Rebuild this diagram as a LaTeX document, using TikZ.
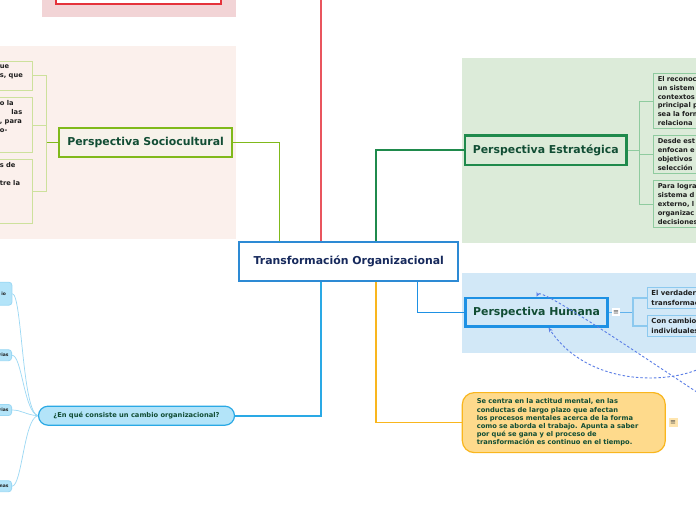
\documentclass[tikz,border=0pt]{standalone}
\usepackage{fontspec}
\setmainfont{DejaVu Sans}
\usetikzlibrary{arrows.meta,positioning,calc}
\definecolor{tored}{HTML}{E5323B}
\definecolor{toredline}{HTML}{E9555E}
\definecolor{topink}{HTML}{F2D4D6}
\definecolor{sociobg}{HTML}{FBF0EC}
\definecolor{sociogreen}{HTML}{80B91B}
\definecolor{sociolight}{HTML}{CDE19C}
\definecolor{sociofill}{HTML}{F7F2EA}
\definecolor{estrbg}{HTML}{DCEBD9}
\definecolor{estrgreen}{HTML}{1F8A4C}
\definecolor{estrlight}{HTML}{8FCB9F}
\definecolor{humbg}{HTML}{D2E8F7}
\definecolor{humblue}{HTML}{1E91E4}
\definecolor{humlight}{HTML}{8CC9EF}
\definecolor{coreblue}{HTML}{2D8AD4}
\definecolor{corenavy}{HTML}{16295C}
\definecolor{titlegreen}{HTML}{114D34}
\definecolor{leaftext}{HTML}{1E1E1E}
\definecolor{mentalfill}{HTML}{FEDA8C}
\definecolor{mentalline}{HTML}{F9B61E}
\definecolor{cambiofill}{HTML}{B3E4F9}
\definecolor{cambioline}{HTML}{2AA9E5}
\definecolor{cambiolight}{HTML}{9BD8F4}
\definecolor{relblue}{HTML}{5A7DE6}

\begin{document}
\begin{tikzpicture}[x=1pt,y=-1pt,
  persp/.style={draw,line width=2.2pt,inner sep=0pt,text=titlegreen,
    font=\bfseries\fontsize{10.9}{13}\selectfont},
  leaf/.style={draw,line width=0.9pt,anchor=north west,align=left,inner xsep=4pt,
    inner ysep=0pt,text=leaftext,font=\bfseries\fontsize{6.7}{8.8}\selectfont},
  cleaf/.style={draw=cambiolight,fill=cambiofill,rounded corners=3pt,line width=0.8pt,
    anchor=east,align=right,text width=30pt,inner xsep=3pt,inner ysep=0pt,
    text=leaftext,font=\bfseries\fontsize{4.5}{5}\selectfont},
  link/.style={line width=1.3pt},
  rel/.style={relblue,line width=0.9pt,dash pattern=on 2.5pt off 2pt,
    -{Stealth[length=4.5pt,width=4pt]}},
  note/.style={fill=white,inner sep=0pt,minimum size=8pt,text=black!70,
    font=\fontsize{7}{7}\selectfont}]
  \useasboundingbox (0,0) rectangle (696,520);
  \fill[white] (0,0) rectangle (696,520);
  % branch backgrounds
  \fill[topink] (41.7,-30) rectangle (235.7,16.7);
  \fill[sociobg] (-5,46) rectangle (235.7,239.3);
  \fill[estrbg] (461.7,58.3) rectangle (700,243.3);
  \fill[humbg] (461.7,272.7) rectangle (700,352.7);

  \node[draw=tored,line width=2pt,fill=white,minimum width=165pt,minimum height=28pt] (goal) at (138,-10) {};
  \node[draw=coreblue,line width=2pt,fill=white,minimum width=219pt,minimum height=39pt,text=corenavy,
    font=\bfseries\fontsize{10.9}{13}\selectfont] (core) at (348.8,261.7) {Transformación Organizacional};
  \node[persp,draw=sociogreen,fill=sociofill,minimum width=172.5pt,minimum height=28.8pt] (socio) at (145.6,142.2) {Perspectiva Sociocultural};
  \node[persp,draw=estrgreen,fill=estrbg,minimum width=161.5pt,minimum height=29.2pt] (estr) at (545.8,150) {Perspectiva Estratégica};
  \node[persp,draw=humblue,fill=humbg,line width=2.6pt,minimum width=142.1pt,minimum height=28.4pt] (human) at (536.6,312.2) {Perspectiva Humana};
  \node[draw=mentalline,fill=mentalfill,line width=1.2pt,rounded corners=12pt,anchor=west,
    text width=174pt,inner xsep=14.5pt,minimum height=60pt,align=left,text=titlegreen,
    font=\bfseries\fontsize{6.7}{8.2}\selectfont] (mental) at (461.7,422.6)
    {Se centra en la actitud mental, en las\\conductas de largo plazo que afectan\\los procesos mentales acerca de la forma\\como se aborda el trabajo. Apunta a saber\\por qué se gana y el proceso de\\transformación es continuo en el tiempo.};
  \node[draw=cambioline,fill=cambiofill,line width=1.2pt,rounded corners=9.5pt,minimum width=196pt,
    minimum height=19pt,inner sep=0pt,text=titlegreen,font=\bfseries\fontsize{6.7}{8}\selectfont] (cambio) at (136.5,415.7)
    {¿En qué consiste un cambio organizacional?};

  % leaves
  \node[leaf,draw=sociolight,fill=sociobg,text width=27.2pt,inner xsep=5.5pt,minimum height=29.4pt] (sleafA) at (-6,60.7)
    {ue\\s, que\\\mbox{}};
  \node[leaf,draw=sociolight,fill=sociobg,text width=27.2pt,inner xsep=5.5pt,minimum height=55.1pt] (sleafB) at (-6,97.3)
    {o la\\\hspace*{11.5pt}las\\, para\\o-\\\mbox{}\\\mbox{}};
  \node[leaf,draw=sociolight,fill=sociobg,text width=27.2pt,inner xsep=5.5pt,minimum height=63.8pt] (sleafC) at (-6,159.3)
    {s de\\\mbox{}\\tre la\\\mbox{}\\\mbox{}\\\mbox{}\\\mbox{}};
  \node[leaf,draw=estrlight,fill=estrbg,text width=90pt,minimum height=55.7pt,
    font=\bfseries\fontsize{6.7}{8.9}\selectfont] (eleafA) at (653.3,72.7)
    {El reconoc\\un sistem\\contextos\\principal p\\sea la form\\relaciona};
  \node[leaf,draw=estrlight,fill=estrbg,text width=90pt,minimum height=38.3pt,
    font=\bfseries\fontsize{6.7}{8.9}\selectfont] (eleafB) at (653.3,135)
    {Desde est\\enfocan e\\objetivos\\selección};
  \node[leaf,draw=estrlight,fill=estrbg,text width=90pt,minimum height=47.3pt,
    font=\bfseries\fontsize{6.7}{8.9}\selectfont] (eleafC) at (653.3,180)
    {Para logra\\sistema d\\externo, l\\organizac\\decisiones};
  \node[leaf,draw=humlight,fill=humbg,text width=90pt,minimum height=21pt,
    font=\bfseries\fontsize{6.9}{9.5}\selectfont] (hleafA) at (647,287) {El verdader\\transformac};
  \node[leaf,draw=humlight,fill=humbg,text width=90pt,minimum height=21pt,
    font=\bfseries\fontsize{6.9}{9.5}\selectfont] (hleafB) at (647,315) {Con cambio\\individuales};
  \node[cleaf,inner xsep=6pt,minimum height=23pt] (cleafA) at (12.3,293.7) {io};
  \node[cleaf,minimum height=11pt] (cleafB) at (12,355.2) {rias};
  \node[cleaf,minimum height=11pt] (cleafC) at (12,410) {rias};
  \node[cleaf,minimum height=11pt] (cleafD) at (12,486.2) {nas};

  % main branches
  \draw[toredline,line width=1.8pt] ([xshift=-28.1pt]core.north) |- (goal.east);
  \draw[sociogreen,link] ([xshift=-69.5pt]core.north) |- (socio.east);
  \draw[estrgreen,link] ([xshift=27.2pt]core.north) |- (estr.west);
  \draw[humblue,link] ([xshift=69pt]core.south) |- (human.west);
  \draw[mentalline,link] ([xshift=27.2pt]core.south) |- (mental.west);
  \draw[cambioline,line width=1.8pt] ([xshift=-28.1pt]core.south) |- (cambio.east);

  % sub branches
  \coordinate (sociojoint) at ($(socio.west)+(-11.6,0)$);
  \draw[sociogreen,line width=1pt] (socio.west) -- (sociojoint);
  \foreach \k in {A,B,C} \draw[sociolight,line width=1pt] (sociojoint) |- (sleaf\k.east);
  \coordinate (estrjoint) at ($(estr.east)+(12,0)$);
  \draw[estrlight,line width=1pt] (estr.east) -- (estrjoint);
  \foreach \k in {A,B,C} \draw[estrlight,line width=1pt] (estrjoint) |- (eleaf\k.west);
  \coordinate (humjoint) at ($(human.east)+(24,0)$);
  \draw[humblue!70,line width=1pt] (human.east) -- (humjoint);
  \foreach \k in {A,B} \draw[humlight,line width=1.2pt] (humjoint) |- (hleaf\k.west);
  \draw[cambiolight,line width=0.7pt] (cleafA.east) .. controls (22,293.7) and (22,412) .. (cambio.west);
  \draw[cambiolight,line width=0.7pt] (cleafB.east) .. controls (22,355.2) and (24,412) .. (cambio.west);
  \draw[cambiolight,line width=0.7pt] (cleafC.east) .. controls (22,410) and (26,415) .. (cambio.west);
  \draw[cambiolight,line width=0.7pt] (cleafD.east) .. controls (22,486.2) and (24,418) .. (cambio.west);

  \node[note] (humnote) at (616,312.2) {≡};
  \node[note,fill=mentalfill!70!white,minimum size=9pt] (mentnote) at (673,422.6) {≡};

  % relations from outside
  \coordinate (relA) at (712,402);
  \coordinate (relB) at (712,362);
  \draw[rel] (relA) .. controls (640,355) and (541,287) .. (human.north);
  \draw[rel] (relB) .. controls (680,385) and (590,390) .. ([xshift=12pt]human.south);
\end{tikzpicture}
\end{document}
